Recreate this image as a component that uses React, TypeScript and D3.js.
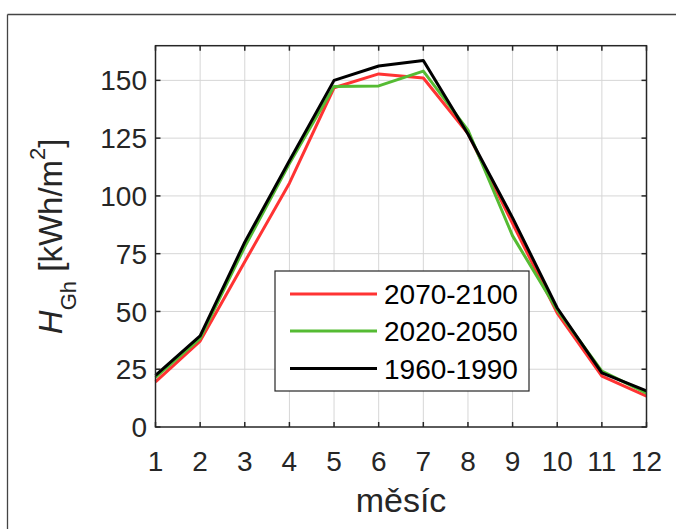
import React from "react";
import * as d3 from "d3";

const months = [1, 2, 3, 4, 5, 6, 7, 8, 9, 10, 11, 12];
const yTicks = [0, 25, 50, 75, 100, 125, 150];
const series2070 = [19.5, 37.2, 71.5, 105.5, 146.8, 152.8, 151, 127, 88, 49.3, 22, 13.4];
const series2020 = [21.5, 38.4, 78, 114, 147.3, 147.6, 154, 128.5, 82.7, 50.6, 24.2, 14.7];
const series1960 = [22.3, 39.4, 80, 115.2, 150, 156.2, 158.6, 126.8, 90.5, 51.5, 23.4, 15.6];
const seriesNames = ["2070-2100", "2020-2050", "1960-1990"];
const seriesColors = ["#ff3333", "#55bb33", "#000000"];
const xLabel = "měsíc";

const W = 676;
const H = 529;
const FONT = "'Liberation Sans', Arial, Helvetica, sans-serif";

export default function App() {
  const x = d3.scaleLinear().domain([1, 12]).range([155.5, 646.5]);
  const y = d3.scaleLinear().domain([0, 165]).range([427, 45.7]);
  const line = d3
    .line<number>()
    .x((_, i) => x(months[i]))
    .y((d) => y(d));
  const allSeries = [series2070, series2020, series1960];
  const [x0, x1] = x.range();
  const [y0, y1] = y.range();
  const tickLen = 5;
  const axisColor = "#262626";
  const legendRows = [294, 331, 368.5];

  return (
    <svg
      width={W}
      height={H}
      style={{ position: "absolute", left: 0, top: 0, background: "#fff" }}
      fontFamily={FONT}
    >
      <rect x={0} y={0} width={W} height={H} fill="#fff" />
      {/* outer frame */}
      <line x1={7.5} y1={14.5} x2={W} y2={14.5} stroke="#444" strokeWidth={1.3} />
      <line x1={7.5} y1={14.5} x2={7.5} y2={H} stroke="#444" strokeWidth={1.3} />

      {/* grid */}
      {months.slice(1, -1).map((m) => (
        <line key={"gx" + m} x1={x(m)} x2={x(m)} y1={y1} y2={y0} stroke="#d6d6d6" strokeWidth={1} />
      ))}
      {yTicks.slice(1).map((t) => (
        <line key={"gy" + t} x1={x0} x2={x1} y1={y(t)} y2={y(t)} stroke="#d6d6d6" strokeWidth={1} />
      ))}

      {/* data lines */}
      {allSeries.map((s, i) => (
        <path key={"s" + i} d={line(s) || ""} fill="none" stroke={seriesColors[i]} strokeWidth={3} strokeLinejoin="round" />
      ))}

      {/* axes box */}
      <rect x={x0} y={y1} width={x1 - x0} height={y0 - y1} fill="none" stroke={axisColor} strokeWidth={1.5} />
      {months.map((m) => (
        <g key={"tx" + m}>
          <line x1={x(m)} x2={x(m)} y1={y0} y2={y0 - tickLen} stroke={axisColor} strokeWidth={1.5} />
          <line x1={x(m)} x2={x(m)} y1={y1} y2={y1 + tickLen} stroke={axisColor} strokeWidth={1.5} />
          <text x={x(m)} y={471} fontSize={28} textAnchor="middle" fill="#262626">
            {m}
          </text>
        </g>
      ))}
      {yTicks.map((t) => (
        <g key={"ty" + t}>
          <line x1={x0} x2={x0 + tickLen} y1={y(t)} y2={y(t)} stroke={axisColor} strokeWidth={1.5} />
          <line x1={x1} x2={x1 - tickLen} y1={y(t)} y2={y(t)} stroke={axisColor} strokeWidth={1.5} />
          <text x={147} y={y(t)} dy="0.36em" fontSize={28} textAnchor="end" fill="#262626">
            {t}
          </text>
        </g>
      ))}

      {/* x label */}
      <text x={(x0 + x1) / 2} y={512} fontSize={34} textAnchor="middle" fill="#262626">
        {xLabel}
      </text>

      {/* y label */}
      <text transform={`translate(62, ${(y0 + y1) / 2}) rotate(-90)`} fontSize={33} textAnchor="middle" fill="#262626">
        <tspan fontStyle="italic">H</tspan>
        <tspan fontSize={22} dy={14}>Gh</tspan>
        <tspan dy={-14}> [kWh/m</tspan>
        <tspan fontSize={22} dy={-17}>2</tspan>
        <tspan dy={17}>]</tspan>
      </text>

      {/* legend */}
      <rect x={275} y={271} width={254} height={120} fill="#fff" stroke={axisColor} strokeWidth={1.2} />
      {seriesNames.map((n, i) => (
        <g key={"lg" + i}>
          <line x1={290} x2={377} y1={legendRows[i]} y2={legendRows[i]} stroke={seriesColors[i]} strokeWidth={3} />
          <text x={384} y={legendRows[i]} dy="0.36em" fontSize={28} fill="#000">
            {n}
          </text>
        </g>
      ))}
    </svg>
  );
}
